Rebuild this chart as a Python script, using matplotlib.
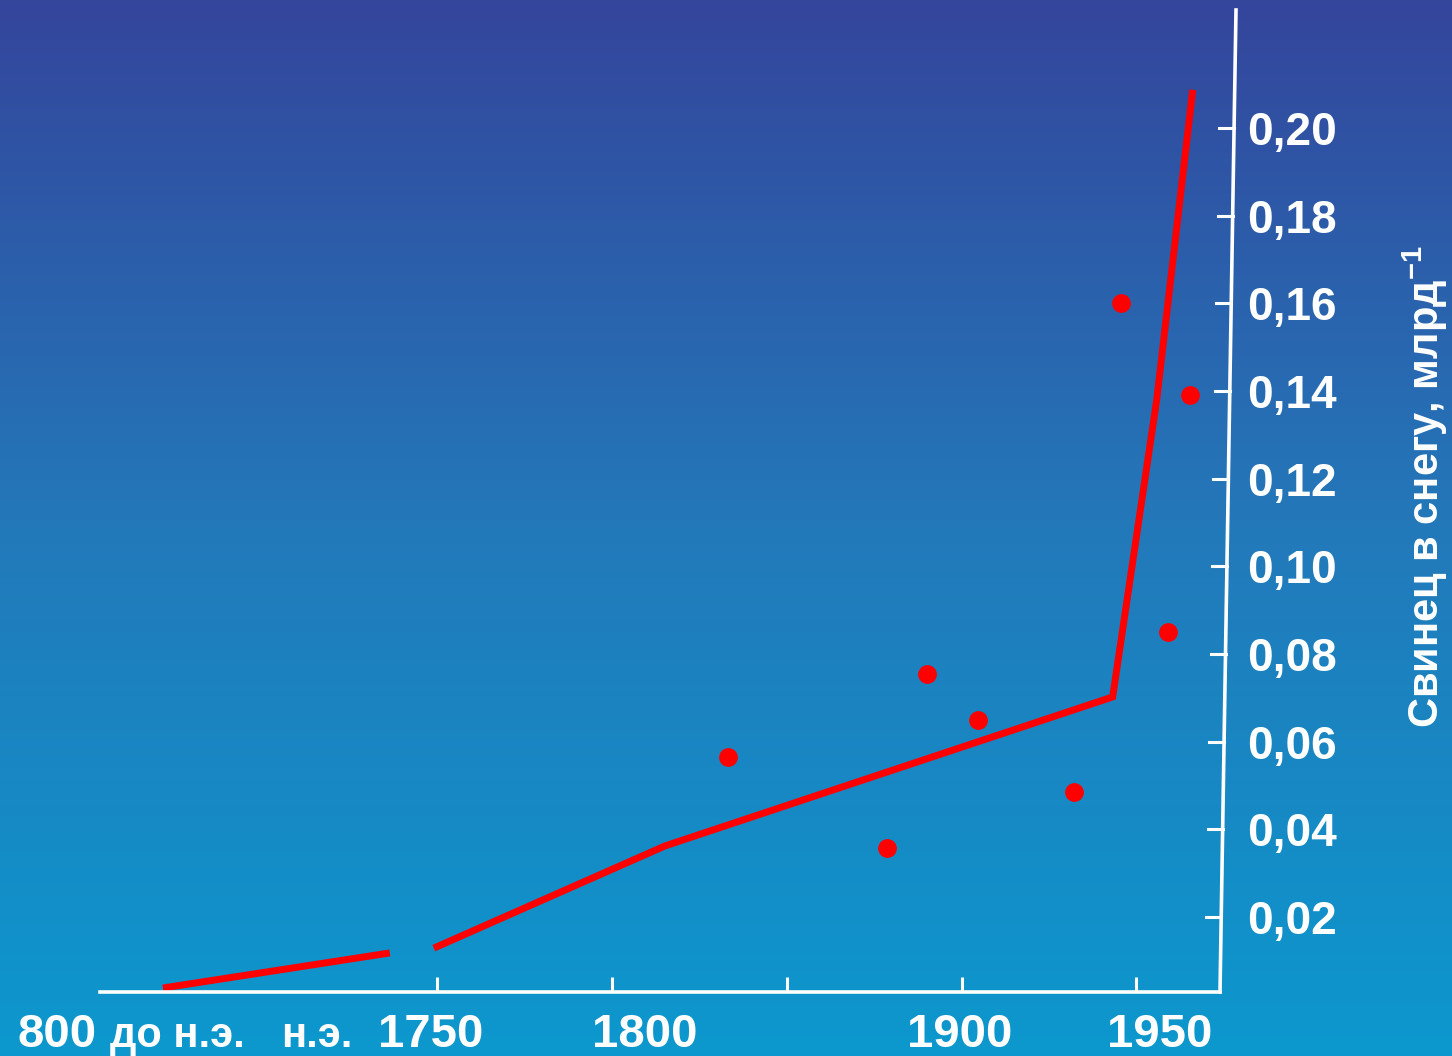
import numpy as np
import matplotlib.pyplot as plt
from matplotlib.lines import Line2D
from matplotlib.colors import LinearSegmentedColormap

plt.rcParams['font.family'] = ['Liberation Sans', 'DejaVu Sans']
plt.rcParams['mathtext.fontset'] = 'custom'
plt.rcParams['mathtext.bf'] = 'Liberation Sans:bold'
plt.rcParams['mathtext.rm'] = 'Liberation Sans'

# Данные
# древний участок оси сжат: положение на оси для 800 до н.э. и н.э.
old_x = [1671.5, 1736.4]
old_y = [0.0038, 0.0118]

line_years = [1749.0, 1815.1, 1943.2, 1955.8, 1966.1]
line_vals = [0.0129, 0.0362, 0.0702, 0.138, 0.2087]

dot_years = [1833.1, 1878.6, 1890.0, 1904.6, 1932.1, 1945.5, 1959.0, 1965.3]
dot_vals = [0.0565, 0.0357, 0.0754, 0.0649, 0.0485, 0.160, 0.085, 0.139]

x_ticks = [1750, 1800, 1850, 1900, 1950]
x_labels = ['1750', '1800', '1900', '1950']
x_label_pos = [1748.0, 1809.4, 1899.5, 1956.7]
y_ticks = [0.02, 0.04, 0.06, 0.08, 0.10, 0.12, 0.14, 0.16, 0.18, 0.20]

W, H = 1452, 1056
fig = plt.figure(figsize=(W / 100, H / 100), dpi=100)

# фон - градиент
bg = fig.add_axes([0, 0, 1, 1], zorder=0)
cmap = LinearSegmentedColormap.from_list('bg', ['#0C98CE', '#2379BA', '#34459C'])
grad = np.linspace(0, 1, 256).reshape(-1, 1)
bg.imshow(grad, aspect='auto', cmap=cmap, origin='lower', extent=[0, 1, 0, 1])
bg.axis('off')

ax = fig.add_axes([100 / W, 1 - 992 / H, 1120 / W, 982 / H], zorder=1)
ax.patch.set_alpha(0)
ax.set_xlim(1653.5, 1973.9)
ax.set_ylim(0.00289, 0.2269)

for s in ['top', 'left', 'right']:
    ax.spines[s].set_visible(False)
ax.spines['bottom'].set_color('white')
ax.spines['bottom'].set_linewidth(2.6)

ax.set_xticks(x_ticks)
ax.set_xticklabels([])
ax.tick_params(axis='x', direction='in', length=10.8, width=2.2, color='white')

ax.yaxis.tick_right()
ax.set_yticks(y_ticks)
ax.set_yticklabels([('%.2f' % v).replace('.', ',') for v in y_ticks])
ax.tick_params(axis='y', length=0, pad=19.5, labelsize=33, labelcolor='white')
for t in ax.get_yticklabels():
    t.set_fontweight('bold')

# наклонная правая ось
ymin, ymax = ax.get_ylim()
x0, x1 = 1220, 1236
fig.add_artist(Line2D([x0 / W, x1 / W], [1 - 992 / H, 1 - 10 / H], color='white', lw=2.6))
for v in y_ticks:
    f = (v - ymin) / (ymax - ymin)
    xs = x0 + (x1 - x0) * f
    fy = (1 - 992 / H) + f * 982 / H
    fig.add_artist(Line2D([(xs - 15) / W, xs / W], [fy, fy], color='white', lw=2.2))

# линия и точки
ax.plot(old_x, old_y, color='#FF0000', lw=5, solid_capstyle='butt', clip_on=False)
ax.plot(line_years, line_vals, color='#FF0000', lw=5, solid_capstyle='butt',
        solid_joinstyle='miter', clip_on=False)
ax.plot(dot_years, dot_vals, 'o', color='#FF0000', ms=12.5, clip_on=False)

# подписи оси X
base = 1 - 1047 / H
tr = ax.get_xaxis_transform()
ybase_ax = (base - (1 - 992 / H)) / (982 / H)
for lab, xp in zip(x_labels, x_label_pos):
    ax.text(xp, ybase_ax, lab, transform=tr, color='white', fontsize=34,
            fontweight='bold', ha='center', va='baseline')
fig.text(97 / W, base, '800', color='white', fontsize=34, fontweight='bold',
         ha='right', va='baseline')
fig.text(110 / W, base, 'до н.э.', color='white', fontsize=30, fontweight='bold',
         ha='left', va='baseline')
fig.text(317 / W, base, 'н.э.', color='white', fontsize=30, fontweight='bold',
         ha='center', va='baseline')

fig.text(1425 / W, 1 - 487 / H, r'Свинец в снегу, млрд$^{\mathbf{-1}}$', rotation=90,
         color='white', fontsize=30, fontweight='bold', ha='center', va='center')

fig.savefig('out.png', dpi=100)
